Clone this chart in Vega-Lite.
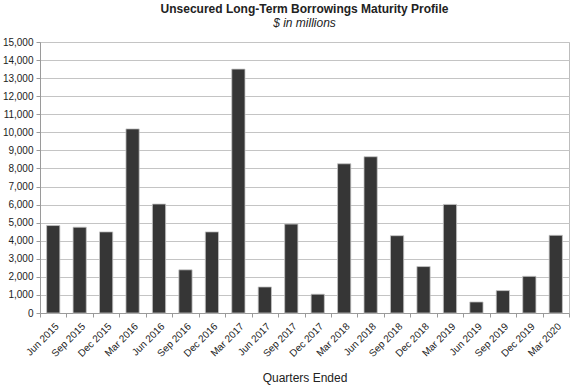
{
  "$schema": "https://vega.github.io/schema/vega-lite/v6.json",
  "autosize": "none",
  "width": 529,
  "height": 271,
  "padding": {"left": 40, "top": 42, "right": 2, "bottom": 74},
  "background": "white",
  "config": {
    "font": "Liberation Sans",
    "view": {"stroke": "#bdbdbd", "strokeWidth": 1}
  },
  "title": {
    "text": "Unsecured Long-Term Borrowings Maturity Profile",
    "subtitle": "$ in millions",
    "anchor": "middle",
    "font": "Liberation Sans",
    "fontSize": 12,
    "fontWeight": "bold",
    "color": "#222222",
    "subtitleFont": "Liberation Sans",
    "subtitleFontSize": 12,
    "subtitleFontStyle": "italic",
    "subtitleColor": "#222222",
    "subtitlePadding": 2,
    "offset": 7
  },
  "data": {
    "values": [
      {"quarter": "Jun 2015", "value": 4840},
      {"quarter": "Sep 2015", "value": 4750},
      {"quarter": "Dec 2015", "value": 4490},
      {"quarter": "Mar 2016", "value": 10190},
      {"quarter": "Jun 2016", "value": 6030},
      {"quarter": "Sep 2016", "value": 2390},
      {"quarter": "Dec 2016", "value": 4490},
      {"quarter": "Mar 2017", "value": 13500},
      {"quarter": "Jun 2017", "value": 1440},
      {"quarter": "Sep 2017", "value": 4920},
      {"quarter": "Dec 2017", "value": 1040},
      {"quarter": "Mar 2018", "value": 8260},
      {"quarter": "Jun 2018", "value": 8650},
      {"quarter": "Sep 2018", "value": 4280},
      {"quarter": "Dec 2018", "value": 2570},
      {"quarter": "Mar 2019", "value": 6010},
      {"quarter": "Jun 2019", "value": 610},
      {"quarter": "Sep 2019", "value": 1240},
      {"quarter": "Dec 2019", "value": 2030},
      {"quarter": "Mar 2020", "value": 4300}
    ]
  },
  "mark": {
    "type": "bar",
    "width": {"band": 0.5},
    "fill": "#363636",
    "stroke": "#c4c4c4",
    "strokeWidth": 0.8
  },
  "encoding": {
    "x": {
      "field": "quarter",
      "type": "ordinal",
      "sort": null,
      "scale": {"paddingInner": 0, "paddingOuter": 0},
      "axis": {
        "title": "Quarters Ended",
        "titleFont": "Liberation Sans",
        "titleFontSize": 12,
        "titleFontWeight": "normal",
        "titleColor": "#222222",
        "titlePadding": 14,
        "labelAngle": -45,
        "labelFontSize": 10,
        "labelColor": "#222222",
        "labelPadding": 4,
        "tickBand": "extent",
        "tickSize": 4,
        "tickColor": "#9a9a9a",
        "domainColor": "#9a9a9a",
        "grid": false
      }
    },
    "y": {
      "field": "value",
      "type": "quantitative",
      "scale": {"domain": [0, 15000], "nice": false},
      "axis": {
        "title": null,
        "values": [0, 1000, 2000, 3000, 4000, 5000, 6000, 7000, 8000, 9000, 10000, 11000, 12000, 13000, 14000, 15000],
        "format": ",d",
        "labelFontSize": 10,
        "labelColor": "#222222",
        "labelPadding": 3,
        "tickSize": 4,
        "tickColor": "#9a9a9a",
        "domainColor": "#9a9a9a",
        "gridColor": "#c4c4c4",
        "gridWidth": 1
      }
    }
  }
}
